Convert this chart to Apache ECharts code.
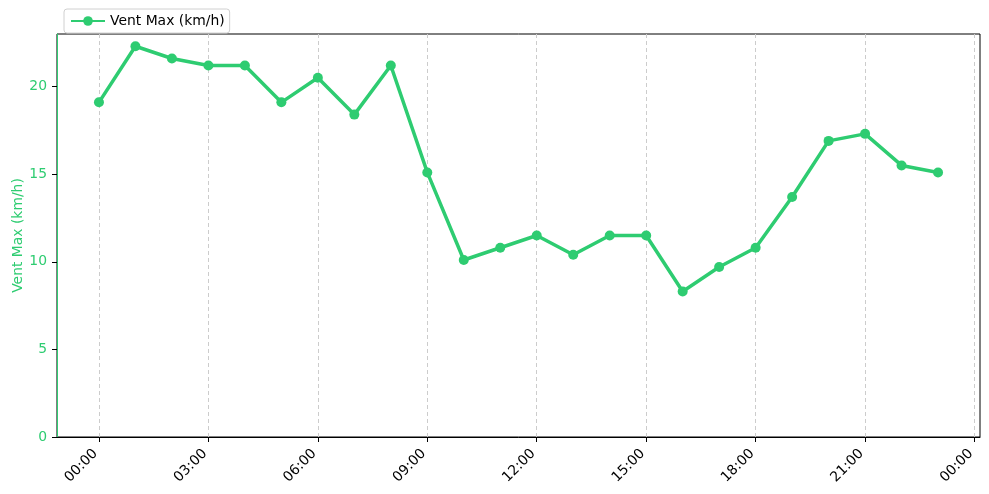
<!DOCTYPE html>
<html><head><meta charset="utf-8">
<script src="https://cdn.jsdelivr.net/npm/echarts@6/dist/echarts.min.js"></script>
<style>html,body{margin:0;padding:0;background:#fff}#c{width:989px;height:494px}</style>
</head><body><div id="c"></div>
<script>
const hours = [0,1,2,3,4,5,6,7,8,9,10,11,12,13,14,15,16,17,18,19,20,21,22,23];
const ventMax = [19.1,22.3,21.6,21.2,21.2,19.1,20.5,18.4,21.2,15.1,10.1,10.8,11.5,10.4,11.5,11.5,8.3,9.7,10.8,13.7,16.9,17.3,15.5,15.1];
const xTicks = [0,3,6,9,12,15,18,21,24];
const yTicks = [0,5,10,15,20];
const seriesName = 'Vent Max (km/h)';
const green = '#2ecc71';
const font = 'DejaVu Sans';

function fmt(h){ const hh = ((h % 24) + 24) % 24; return String(hh).padStart(2,'0') + ':00'; }

const chart = echarts.init(document.getElementById('c'), null, {renderer:'canvas'});
chart.setOption({
  animation:false,
  backgroundColor:'#fff',
  textStyle:{fontFamily:font},
  grid:{left:57,right:9,top:34,bottom:57,show:true,borderColor:'#000',borderWidth:1,backgroundColor:'transparent',outerBoundsMode:'none',containLabel:false},
  legend:{
    left:64,top:9,itemWidth:34,itemHeight:12,itemGap:8,padding:[5,5,5,6],
    borderColor:'#d0d0d0',borderWidth:1,borderRadius:3,backgroundColor:'#fff',
    textStyle:{fontFamily:font,fontSize:13.9,color:'#000'},
    data:[seriesName]
  },
  xAxis:{
    type:'value',min:-1.15,max:24.15,
    axisLine:{show:true,onZero:false,lineStyle:{color:'#000',width:1}},
    axisTick:{show:true,length:5,lineStyle:{color:'#000'},customValues:xTicks},
    axisLabel:{rotate:45,fontFamily:font,fontSize:13.9,color:'#000',margin:11,padding:[0,5,0,0],customValues:xTicks,formatter:fmt},
    splitLine:{show:true,lineStyle:{color:'#cccccc',type:[4,3],width:1}}
  },
  yAxis:{
    type:'value',min:0,max:23.0,interval:5,
    name:seriesName,nameLocation:'middle',nameGap:32,nameMoveOverlap:false,
    nameTextStyle:{color:green,fontFamily:font,fontSize:13.9},
    axisLine:{show:true,onZero:false,lineStyle:{color:green,width:1}},
    axisTick:{show:true,length:5,lineStyle:{color:'#000'},customValues:yTicks},
    axisLabel:{color:green,fontFamily:font,fontSize:13.9,margin:10,customValues:yTicks},
    splitLine:{show:false}
  },
  series:[{
    name:seriesName,type:'line',
    data:hours.map((h,i)=>[h,ventMax[i]]),
    symbol:'circle',symbolSize:10,showSymbol:true,
    lineStyle:{color:green,width:3.5},
    itemStyle:{color:green},
    z:5
  }]
});
</script></body></html>
